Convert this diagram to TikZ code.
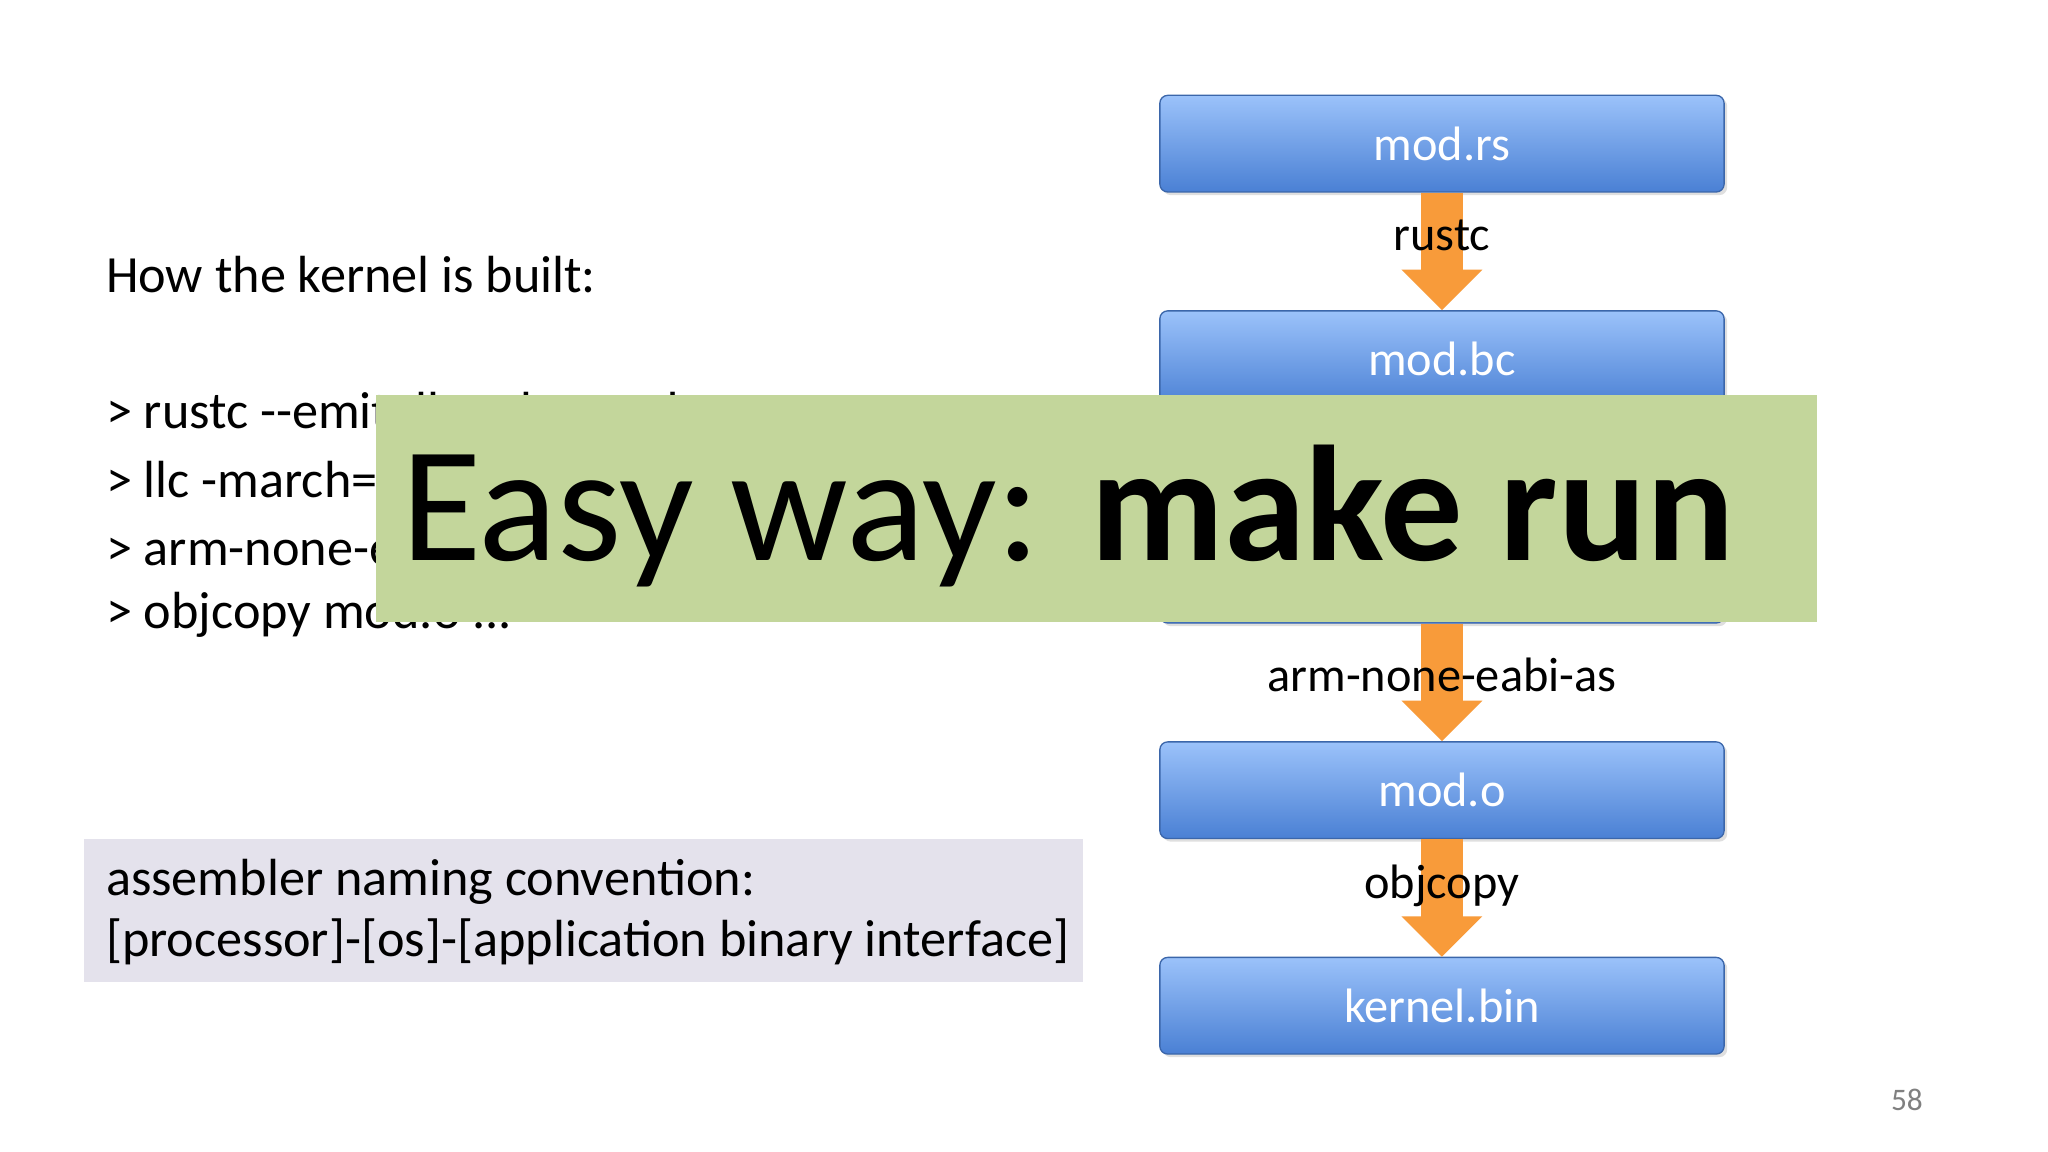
\documentclass[tikz,border=0pt]{standalone}
\usepackage{fontspec}
\setmainfont{Carlito}
\usetikzlibrary{shadows}
\definecolor{bluetop}{HTML}{9BC2FA}
\definecolor{bluebot}{HTML}{4A80D4}
\definecolor{orng}{HTML}{F89B3A}
\definecolor{greenbox}{HTML}{C3D69B}
\definecolor{graybox}{HTML}{E4E2EC}
\tikzset{
  fbox/.style={draw=bluebot!80!black, line width=1pt, rounded corners=6pt, top color=bluetop, bottom color=bluebot,
    minimum width=432pt, minimum height=74pt, text=white, font=\fontsize{37}{42}\selectfont, drop shadow={opacity=0.25}},
  lbl/.style={font=\fontsize{37}{42}\selectfont, text=black},
  txt/.style={font=\fontsize{40}{46}\selectfont, anchor=west, text=black, inner sep=0}
}
\newcommand{\farrow}[2]{%
  \fill[orng] ([xshift=-16pt]#1.south) rectangle ([xshift=16pt,yshift=30pt]#2.north);
  \fill[orng] ([xshift=-31pt,yshift=31pt]#2.north) -- ([xshift=31pt,yshift=31pt]#2.north) -- (#2.north) -- cycle;}
\begin{document}
\begin{tikzpicture}[x=1pt,y=-1pt]
\useasboundingbox (0,0) rectangle (1568,882);
\fill[white] (0,0) rectangle (1568,882);
\node[fbox] (rs) at (1104,110) {mod.rs};
\node[fbox] (bc) at (1104,275) {mod.bc};
\node[fbox] (s) at (1104,440) {mod.s};
\node[fbox] (o) at (1104,605) {mod.o};
\node[fbox] (bin) at (1104,770) {kernel.bin};
\farrow{rs}{bc}
\farrow{bc}{s}
\farrow{s}{o}
\farrow{o}{bin}
\node[lbl] (l1) at (1104,180) {rustc};
\node[lbl] (l2) at (1104,355) {llc};
\node[lbl] (l3) at (1104,517) {arm-none-eabi-as};
\node[lbl] (l4) at (1104,678) {objcopy};
\node[txt] (h) at (81,210) {How the kernel is built:};
\node[txt] (c1) at (81,314) {> rustc -{}-emit=llvm-bc mod.rs};
\node[txt] (c2) at (81,367) {> llc -march=arm mod.bc};
\node[txt] (c3) at (81,419) {> arm-none-eabi-as mod.s};
\node[txt] (c4) at (81,471) {> objcopy mod.o ...};
\node[fill=graybox, minimum width=765pt, minimum height=110pt, anchor=north west, inner sep=0] (g) at (64,642) {};
\node[txt] (g1) at (81,675) {assembler naming convention:};
\node[txt] (g2) at (81,721) {[processor]-[os]-[application binary interface]};
\node[fill=greenbox, minimum width=1103pt, minimum height=174pt, anchor=north west, inner sep=0] (gr) at (288,302) {};
\node[anchor=west, inner sep=0, font=\fontsize{126}{134}\selectfont] (easy) at (307,395) {Easy way: \textbf{make run}};
\node[font=\fontsize{24}{28}\selectfont, text=gray] (pg) at (1460,842) {58};
\end{tikzpicture}
\end{document}
